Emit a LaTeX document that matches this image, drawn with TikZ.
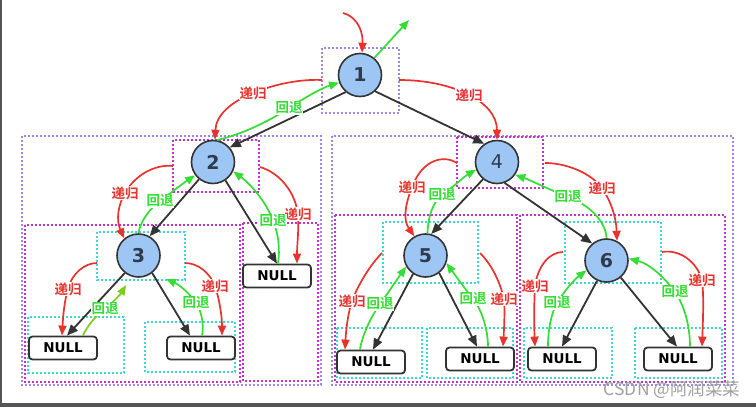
\documentclass[tikz,border=0pt]{standalone}
\usepackage{fontspec}
\newfontfamily\cjk{Noto Sans CJK SC}
\newfontfamily\cjkb{Noto Sans CJK SC Bold}
\newfontfamily\numfont{DejaVu Sans}
\usetikzlibrary{arrows.meta,calc}
\definecolor{nodefill}{HTML}{9EC6F5}
\definecolor{nodeline}{HTML}{333333}
\definecolor{numtext}{HTML}{2F3B4C}
\definecolor{recred}{HTML}{E8322E}
\definecolor{backgreen}{HTML}{33DD33}
\definecolor{olivegreen}{HTML}{7CCB1E}
\definecolor{lav}{HTML}{9D86E9}
\definecolor{mag}{HTML}{C42FD0}
\definecolor{cya}{HTML}{3ED6D6}
\definecolor{frame}{HTML}{555555}
\definecolor{wm}{HTML}{A0A0A0}
\begin{document}
\begin{tikzpicture}[x=1pt,y=-1pt,
  tn/.style={circle, draw=nodeline, line width=1.6pt, fill=nodefill, minimum size=43pt, inner sep=0pt, text=numtext, font=\numfont\bfseries\fontsize{19}{19}\selectfont},
  nullbox/.style={draw=nodeline, rounded corners=3.5pt, line width=1.8pt, fill=white, minimum width=68pt, minimum height=23pt, inner sep=0pt, font=\numfont\bfseries\fontsize{13.5}{14}\selectfont},
  lab/.style={fill=white, inner sep=0.6pt, font=\cjkb\fontsize{13.5}{13.5}\selectfont},
  rlab/.style={lab, text=recred},
  glab/.style={lab, text=backgreen},
  rec/.style={draw=recred, line width=1.7pt, -{Triangle[length=10pt,width=8pt]}},
  back/.style={draw=backgreen, line width=1.7pt, -{Triangle[length=10pt,width=8pt]}},
  oback/.style={draw=olivegreen, line width=1.7pt, -{Triangle[length=10pt,width=8pt]}},
  edge/.style={draw=nodeline, line width=1.8pt, -{Triangle[length=11pt,width=9pt]}},
  lbox/.style={draw=lav, line width=2.2pt, dash pattern=on 1.8pt off 2.2pt},
  mbox/.style={draw=mag, line width=2.2pt, dash pattern=on 1.8pt off 2.2pt},
  cbox/.style={draw=cya, line width=2.2pt, dash pattern=on 1.8pt off 2.2pt}
]
\useasboundingbox (0,0) rectangle (756,407);
% screenshot frame
\fill[frame] (0,0) rectangle (2,403);
\fill[frame] (0,403) rectangle (756,407);

% dotted boxes
\draw[lbox] (322,48) rectangle (399,113);
\draw[lbox] (22,136) rectangle (321,385);
\draw[lbox] (332,136) rectangle (733,385);
\draw[mbox] (173,140) rectangle (259,192);
\draw[mbox] (457,137) rectangle (543,188);
\draw[mbox] (25,225) rectangle (240,382);
\draw[mbox] (243,223) rectangle (318,381);
\draw[mbox] (335,215) rectangle (517,382);
\draw[mbox] (520,215) rectangle (725,382);
\draw[cbox] (97,232) rectangle (185,280);
\draw[cbox] (28,317) rectangle (124,373);
\draw[cbox] (145,322) rectangle (235,372);
\draw[cbox] (383,222) rectangle (478,283);
\draw[cbox] (565,222) rectangle (661,283);
\draw[cbox] (337,328) rectangle (422,378);
\draw[cbox] (427,328) rectangle (513,378);
\draw[cbox] (524,328) rectangle (612,378);
\draw[cbox] (635,328) rectangle (722,378);

% tree nodes
\node[tn] (n1) at (360,75) {1};
\node[tn] (n2) at (213,162) {2};
\node[tn] (n4) at (497,162) {\mdseries 4};
\node[tn] (n3) at (138.5,255.5) {3};
\node[tn] (n5) at (425.5,255.5) {5};
\node[tn] (n6) at (606.5,260.5) {6};
\node[nullbox] (a) at (277,276) {NULL};
\node[nullbox] (b) at (63,348) {NULL};
\node[nullbox] (c) at (201,348) {NULL};
\node[nullbox] (d) at (371,362) {NULL};
\node[nullbox] (e) at (480,359) {NULL};
\node[nullbox] (f) at (562,359) {NULL};
\node[nullbox] (g) at (678,359) {NULL};

% free ends
\coordinate (rin) at (343,13);
\coordinate (gout) at (409,20);
\coordinate (s12) at (322,80);
\coordinate (s14) at (399,80);
\coordinate (s23) at (173,166);
\coordinate (s2a) at (260,167);
\coordinate (s3b) at (97,263);
\coordinate (s3c) at (185,263);
\coordinate (t3b) at (126,285);
\coordinate (t3c) at (166,279);
\coordinate (s45) at (457,163);
\coordinate (s46) at (545,163);
\coordinate (s5d) at (382,253);
\coordinate (s5e) at (480,253);
\coordinate (s6f) at (563,252);
\coordinate (s6g) at (662,252);

% black tree edges
\draw[edge] (n1.230) -- (n2.41);
\draw[edge] (n1.313) -- (n4.125);
\draw[edge] (n2.231) -- (n3.60);
\draw[edge] (n2.304) -- (a.north);
\draw[edge] (n3.232) -- ([xshift=4pt]b.north);
\draw[edge] (n3.308) -- ([xshift=-11pt]c.north);
\draw[edge] (n4.231) -- (n5.75);
\draw[edge] (n4.290) -- (n6.130);
\draw[edge] (n5.236) -- ([xshift=2pt]d.north);
\draw[edge] (n5.308) -- ([xshift=-3pt]e.north);
\draw[edge] (n6.245) -- (f.north);
\draw[edge] (n6.310) -- ([xshift=-1pt]g.north);

% root in / out
\draw[rec] (rin) .. controls (360,18) and (363,35) .. ([xshift=2pt]n1.north);
\draw[back] (n1.50) -- (gout);

% level 1
\draw[rec] (s12) .. controls (300,79) and (275,84) .. (253,93) node[rlab] (l1) {递归}
  .. controls (231,102) and (216,115) .. ([xshift=2pt]n2.north);
\draw[back] (n2.80) .. controls (240,135) and (268,122) .. (289,108) node[glab] (l2) {回退}
  .. controls (305,97.3) and (322,88) .. (n1.200);
\draw[rec] (s14) .. controls (425,80) and (450,85) .. (469,95) node[rlab] (l3) {递归}
  .. controls (485,103) and (497,115) .. (n4.north);

% node 2
\draw[rec] (s23) .. controls (155,164) and (135,175) .. (125,193) node[rlab] (l4) {递归}
  .. controls (118,205) and (116,220) .. (n3.130);
\draw[back] (n3.north) .. controls (140,222) and (150,208) .. (160,201) node[glab] (l5) {回退}
  .. controls (172,192) and (182,184) .. (n2.217);
\draw[rec] (s2a) .. controls (280,173) and (295,192) .. (298,214) node[rlab] (l6) {递归}
  .. controls (299,230) and (297,245) .. ([xshift=20pt]a.north);
\draw[back] ([xshift=1pt]a.north) .. controls (280,250) and (279,235) .. (273,221) node[glab] (l7) {回退}
  .. controls (268,205) and (252,185) .. (n2.335);

% node 3
\draw[rec] (s3b) .. controls (85,263) and (72,273) .. (68,289) node[rlab] (l8) {递归}
  .. controls (64,302) and (63,318) .. ([xshift=-1pt]b.north);
\draw[oback] ([xshift=20pt]b.north) .. controls (86,328) and (95,316) .. (105,309) node[glab] (l9) {回退}
  .. controls (112,303) and (120,295) .. (t3b);
\draw[back] ([xshift=1pt]c.north) .. controls (204,325) and (202,312) .. (196,303) node[glab] (l10) {回退}
  .. controls (190,294) and (180,285) .. (t3c);
\draw[rec] (s3c) .. controls (198,263) and (210,273) .. (215,286) node[rlab] (l11) {递归}
  .. controls (219,298) and (222,315) .. ([xshift=21pt]c.north);

% node 4
\draw[rec] (s45) .. controls (445,155) and (423,158) .. (412,187) node[rlab] (l12) {递归}
  .. controls (405,205) and (403,220) .. (n5.120);
\draw[back] (n5.85) .. controls (428,218) and (432,203) .. (442,195) node[glab] (l13) {回退}
  .. controls (452,188) and (465,176) .. (n4.200);
\draw[back] (n6.90) .. controls (606,222) and (590,205) .. (568,197) node[glab] (l14) {回退}
  .. controls (550,190) and (530,180) .. (n4.325);
\draw[rec] (s46) .. controls (565,163) and (590,172) .. (602,188) node[rlab] (l15) {递归}
  .. controls (610,200) and (616,215) .. (n6.62);

% node 5
\draw[rec] (s5d) .. controls (370,265) and (358,285) .. (352,301) node[rlab] (l16) {递归}
  .. controls (348,313) and (346,330) .. ([xshift=-26pt]d.north);
\draw[back] ([xshift=-11pt]d.north) .. controls (362,335) and (372,315) .. (380,304) node[glab] (l17) {回退}
  .. controls (388,293) and (398,278) .. (n5.210);
\draw[back] ([xshift=8pt]e.north) .. controls (488,330) and (482,310) .. (473,299) node[glab] (l18) {回退}
  .. controls (466,290) and (455,275) .. (n5.340);
\draw[rec] (s5e) .. controls (492,265) and (500,282) .. (504,299) node[rlab] (l19) {递归}
  .. controls (505,312) and (504,330) .. ([xshift=23pt]e.north);

% node 6
\draw[rec] (s6f) .. controls (550,252) and (538,265) .. (535,286) node[rlab] (l20) {递归}
  .. controls (534,303) and (534,325) .. ([xshift=-27pt]f.north);
\draw[back] ([xshift=-14pt]f.north) .. controls (548,330) and (551,314) .. (557,303) node[glab] (l21) {回退}
  .. controls (564,291) and (575,279) .. (n6.206);
\draw[back] ([xshift=12pt]g.north) .. controls (690,325) and (684,305) .. (675,292) node[glab] (l22) {回退}
  .. controls (665,278) and (650,264) .. (n6.5);
\draw[rec] (s6g) .. controls (680,249) and (697,262) .. (702,280) node[rlab] (l23) {递归}
  .. controls (704,295) and (703,320) .. ([xshift=24pt]g.north);

% watermark
\node[text=wm, font=\cjk\fontsize{17.5}{17.5}\selectfont, inner sep=0pt] (wmk) at (672,390) {CSDN @阿润菜菜};
\end{tikzpicture}
\end{document}
